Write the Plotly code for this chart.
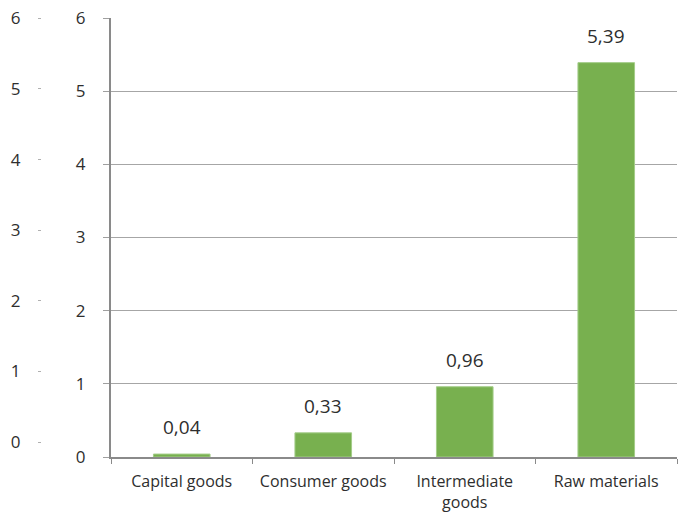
import plotly.graph_objects as go

categories = ["Capital goods", "Consumer goods", "Intermediate<br>goods", "Raw materials"]
values = [0.04, 0.33, 0.96, 5.39]
y_ticks = [0, 1, 2, 3, 4, 5, 6]
labels = [f"{v:.2f}".replace(".", ",") for v in values]

W, H = 679, 515
ml, mr, mt, mb = 0, 2, 18, 58
pw = W - ml - mr
x_start = 111 / pw
outer_pos = 41 / pw

font_fam = "Open Sans, Noto Sans, sans-serif"
txt_col = "#2e2e2e"

fig = go.Figure()
fig.add_trace(go.Bar(
    x=categories, y=values,
    marker=dict(color="#78b04f", line=dict(color="#a3cc88", width=1)),
    width=0.4, hoverinfo="skip", showlegend=False,
))
# invisible trace to host the outer axis
fig.add_trace(go.Scatter(x=categories, y=values, yaxis="y2", mode="markers",
                         marker=dict(opacity=0), hoverinfo="skip", showlegend=False))

for c, v, t in zip(categories, values, labels):
    fig.add_annotation(x=c, y=v, text=t, showarrow=False, yanchor="bottom",
                       yshift=12, font=dict(family=font_fam, size=19, color=txt_col))

fig.update_layout(
    width=W, height=H,
    margin=dict(l=ml, r=mr, t=mt, b=mb, autoexpand=False),
    paper_bgcolor="white", plot_bgcolor="white",
    font=dict(family=font_fam, color=txt_col),
    bargap=0.6,
    xaxis=dict(
        domain=[x_start, 1],
        showline=True, linecolor="#8a8a8a", linewidth=2,
        ticks="outside", tickson="boundaries", ticklen=5, tickcolor="#8a8a8a",
        tickfont=dict(size=16, color=txt_col), ticklabelstandoff=9,
        showgrid=False, zeroline=False, automargin=False,
    ),
    yaxis=dict(
        range=[0, 6], tickvals=y_ticks, ticktext=[str(v) for v in y_ticks],
        showline=True, linecolor="#8a8a8a", linewidth=2,
        ticks="outside", ticklen=6, tickcolor="#9f9f9f",
        showgrid=True, gridcolor="#a6a6a6", gridwidth=1,
        zeroline=False, ticklabelstandoff=14, ticklabeloverflow="allow",
        tickfont=dict(size=17, color=txt_col), automargin=False,
    ),
    yaxis2=dict(
        overlaying="y", anchor="free", position=outer_pos, side="left",
        range=[-0.212, 6.005], tickvals=y_ticks, ticktext=[str(v) for v in y_ticks],
        showline=False, showgrid=False, zeroline=False,
        ticks="outside", ticklen=3, tickcolor="#b0b0b0",
        ticklabelstandoff=14, ticklabeloverflow="allow",
        tickfont=dict(size=17, color=txt_col), automargin=False,
    ),
)

fig.write_html("out.html", config={"displayModeBar": False},
               post_script="document.body.style.margin='0';")
